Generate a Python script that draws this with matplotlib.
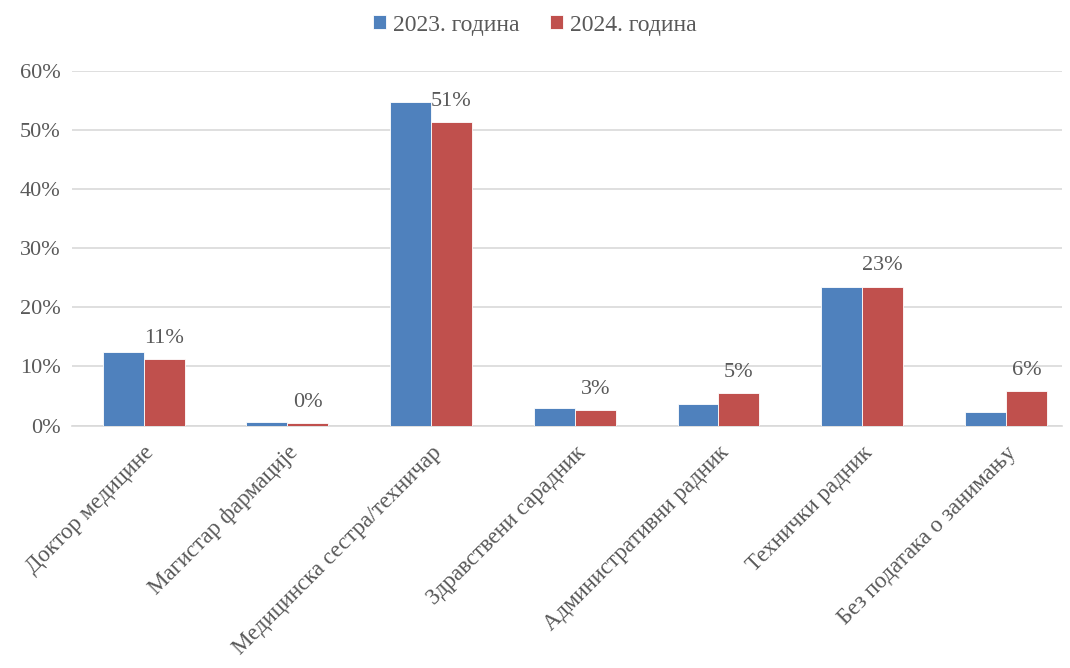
import matplotlib.pyplot as plt
import numpy as np

categories = ["Доктор медицине", "Магистар фармације", "Медицинска сестра/техничар",
              "Здравствени сарадник", "Административни радник", "Технички радник",
              "Без података о занимању"]
y2023 = [12.5, 0.65, 54.7, 3.0, 3.7, 23.4, 2.3]
y2024 = [11.2, 0.4, 51.4, 2.6, 5.5, 23.5, 5.8]
labels2024 = ["11%", "0%", "51%", "3%", "5%", "23%", "6%"]

plt.rcParams['font.family'] = ['Liberation Serif', 'DejaVu Serif']
txt = "#595959"

fig = plt.figure(figsize=(10.7, 6.68), dpi=100)
ax = fig.add_axes([0.067, 0.363, 0.9255, 0.531])

x = np.arange(len(categories))
w = 0.285
ax.bar(x - w / 2, y2023, w, color="#4f81bd", edgecolor="white", linewidth=0.6,
       label="2023. година", zorder=3)
b = ax.bar(x + w / 2, y2024, w, color="#c0504d", edgecolor="white", linewidth=0.6,
           label="2024. година", zorder=3)
ax.bar_label(b, labels=labels2024, padding=8, fontsize=16, color=txt)

# the last group runs a little past the end of the gridlines in the original
ax.set_xlim(-0.5, len(categories) - 0.61)
ax.set_ylim(0, 60)
ax.set_yticks(range(0, 61, 10))
ax.set_yticklabels([f"{v}%" for v in range(0, 61, 10)], fontsize=16, color=txt)
ax.set_xticks(x)
ax.set_xticklabels(categories, rotation=45, ha="right", rotation_mode="anchor",
                   fontsize=16.5, color=txt)
ax.tick_params(length=0, pad=8)
ax.tick_params(axis="x", pad=12)
ax.grid(axis="y", color="#d9d9d9", linewidth=1.2, zorder=0)
for s in ["top", "right", "left"]:
    ax.spines[s].set_visible(False)
ax.spines["bottom"].set_color("#d9d9d9")
ax.spines["bottom"].set_linewidth(1.2)

fig.legend(loc="upper center", bbox_to_anchor=(0.5, 1.01), ncol=2, frameon=False,
           fontsize=17, labelcolor=txt, handlelength=0.55, handleheight=0.55,
           handletextpad=0.3, columnspacing=1.3)

fig.savefig("out.png", dpi=100)
